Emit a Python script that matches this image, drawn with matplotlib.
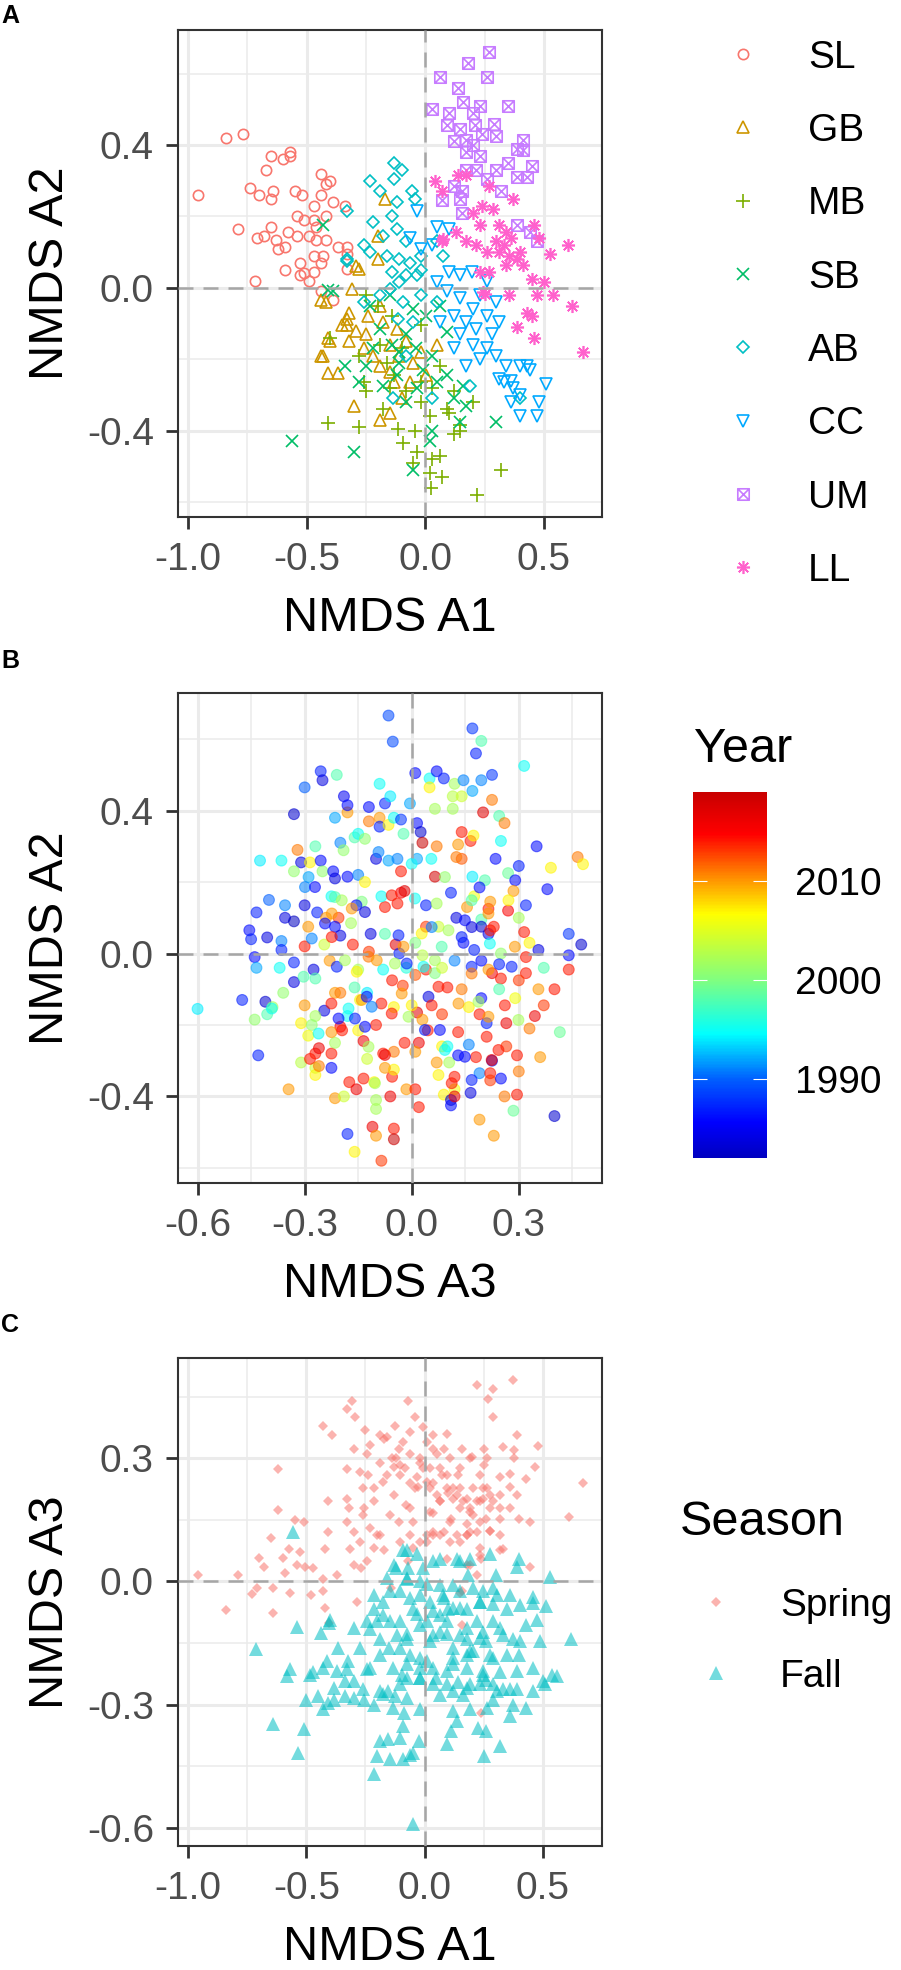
import numpy as np
import matplotlib
matplotlib.use("Agg")
from matplotlib import pyplot as plt
from matplotlib.colors import LinearSegmentedColormap, Normalize
from matplotlib.cm import ScalarMappable
from matplotlib.path import Path

plt.rcParams['font.family'] = ['Liberation Sans', 'DejaVu Sans']
plt.rcParams['axes.unicode_minus'] = False

# ---------------- data ----------------
# panel A: NMDS A1 / A2 by site
site_names = ['SL', 'GB', 'MB', 'SB', 'AB', 'CC', 'UM', 'LL']

sl_x = [-0.96, -0.84, -0.77, -0.65, -0.60, -0.57, -0.57, -0.67, -0.44, -0.40,
        -0.74, -0.70, -0.64, -0.65, -0.55, -0.52, -0.47, -0.44, -0.42, -0.39,
        -0.34, -0.54, -0.51, -0.47, -0.42, -0.79, -0.71, -0.68, -0.65, -0.63,
        -0.62, -0.59, -0.58, -0.54, -0.49, -0.46, -0.42, -0.47, -0.43, -0.44,
        -0.37, -0.33, -0.33, -0.53, -0.59, -0.51, -0.49, -0.72, -0.44, -0.39,
        -0.33, -0.46, -0.53, -0.47]
sl_y = [0.26, 0.42, 0.43, 0.37, 0.36, 0.38, 0.37, 0.33, 0.32, 0.30,
        0.28, 0.26, 0.27, 0.25, 0.27, 0.26, 0.23, 0.26, 0.29, 0.24,
        0.23, 0.20, 0.19, 0.19, 0.20, 0.165, 0.14, 0.145, 0.17, 0.135,
        0.11, 0.115, 0.155, 0.145, 0.145, 0.135, 0.135, 0.09, 0.09, 0.07,
        0.115, 0.115, 0.095, 0.07, 0.05, 0.04, 0.02, 0.018, -0.008, -0.035,
        0.053, 0.17, 0.035, 0.045]

gb_x = [-0.17, -0.20, -0.28, -0.20, -0.42, -0.31, -0.32, -0.33, -0.29, -0.40,
        -0.44, -0.37, -0.32, -0.25, -0.26, -0.22, -0.19, -0.15, -0.13, -0.30,
        -0.19, -0.15, -0.24, -0.18, -0.12, -0.08, -0.15, -0.11, -0.05, -0.02,
        -0.065, -0.10, 0.005, -0.19, -0.35, 0.05, -0.44, -0.41, -0.43, -0.33,
        -0.29, -0.41]
gb_y = [0.25, 0.145, 0.053, 0.08, -0.04, -0.003, -0.07, -0.105, -0.12, -0.15,
        -0.19, -0.24, -0.15, -0.13, -0.17, -0.19, -0.22, -0.235, -0.265, -0.33,
        -0.37, -0.35, -0.08, -0.095, -0.115, -0.15, -0.16, -0.19, -0.21, -0.18,
        -0.265, -0.31, -0.245, -0.05, -0.105, -0.16, -0.035, -0.14, -0.19, -0.087,
        0.06, -0.24]

mb_x = [-0.41, -0.28, -0.40, -0.28, -0.26, -0.25, -0.19, -0.16, -0.13, -0.115,
        -0.095, -0.045, -0.035, -0.05, 0.03, 0.06, 0.02, 0.07, 0.025, 0.22,
        0.32, 0.12, 0.145, 0.10, 0.20, 0.02, -0.02, -0.08, -0.15, -0.18,
        0.03, 0.06, -0.02, -0.10, 0.12, 0.09, -0.20, -0.25, -0.14, -0.02,
        0.145]
mb_y = [-0.38, -0.39, -0.14, -0.19, -0.265, -0.29, -0.16, -0.21, -0.245, -0.395,
        -0.435, -0.40, -0.46, -0.49, -0.48, -0.47, -0.52, -0.53, -0.56, -0.58,
        -0.51, -0.41, -0.40, -0.35, -0.32, -0.36, -0.32, -0.29, -0.28, -0.34,
        -0.28, -0.22, -0.265, -0.17, -0.29, -0.34, -0.05, -0.02, -0.08, -0.105,
        -0.385]

sb_x = [-0.56, -0.30, -0.05, 0.30, -0.43, -0.39, -0.34, -0.28, -0.235, -0.19,
        -0.14, -0.11, -0.08, -0.04, -0.01, 0.03, 0.05, 0.09, 0.12, 0.16,
        0.17, 0.145, 0.03, 0.02, -0.08, -0.18, -0.22, -0.15, -0.05, 0.005,
        0.09, 0.06, -0.035, -0.12, -0.41, -0.25, -0.11]
sb_y = [-0.43, -0.46, -0.51, -0.375, 0.175, -0.01, -0.22, -0.265, -0.05, -0.115,
        -0.16, -0.21, -0.13, -0.17, -0.23, -0.19, -0.265, -0.245, -0.31, -0.275,
        -0.33, -0.375, -0.40, -0.43, -0.32, -0.275, -0.17, -0.02, -0.06, -0.08,
        -0.125, -0.05, -0.28, -0.245, -0.005, -0.22, -0.18]

ab_x = [-0.13, -0.10, -0.13, -0.235, -0.19, -0.055, -0.045, -0.33, -0.22, -0.14,
        -0.12, -0.18, -0.12, -0.08, -0.26, -0.33, -0.235, -0.16, -0.11, -0.065,
        -0.02, -0.14, -0.08, -0.035, -0.02, -0.11, -0.15, -0.19, -0.26, -0.095,
        -0.02, 0.05, 0.075, 0.05, -0.115, -0.05, -0.08, -0.135, 0.40, 0.19,
        0.03, -0.33]
ab_y = [0.35, 0.33, 0.305, 0.30, 0.27, 0.27, 0.25, 0.215, 0.185, 0.20,
        0.24, 0.145, 0.165, 0.13, 0.12, 0.08, 0.10, 0.09, 0.08, 0.07,
        0.09, 0.045, 0.035, 0.035, 0.05, 0.016, -0.003, -0.02, -0.04, -0.04,
        -0.02, -0.04, 0.09, 0.13, -0.087, -0.095, -0.19, -0.31, -0.31, -0.275,
        -0.31, 0.076]

cc_x = [-0.035, 0.05, 0.10, 0.03, -0.065, -0.02, 0.10, 0.145, 0.195, 0.26,
        0.05, 0.09, 0.145, 0.23, 0.30, 0.20, 0.12, 0.17, 0.26, 0.145,
        0.215, 0.28, 0.31, 0.20, 0.26, 0.23, 0.30, 0.34, 0.40, 0.44,
        0.51, 0.33, 0.37, 0.40, 0.47, 0.36, 0.17, 0.12, 0.06, 0.31,
        0.36, 0.43, 0.40, 0.48]
cc_y = [0.215, 0.17, 0.165, 0.12, 0.14, 0.11, 0.045, 0.035, 0.045, 0.02,
        0.016, -0.01, -0.03, -0.02, -0.04, -0.06, -0.08, -0.095, -0.08, -0.13,
        -0.115, -0.13, -0.095, -0.16, -0.17, -0.20, -0.19, -0.22, -0.22, -0.23,
        -0.27, -0.265, -0.28, -0.36, -0.36, -0.32, -0.22, -0.17, -0.095, -0.255,
        -0.26, -0.22, -0.30, -0.32]

um_x = [0.27, 0.18, 0.06, 0.26, 0.14, 0.35, 0.03, 0.16, 0.10, 0.20,
        0.23, 0.29, 0.09, 0.145, 0.21, 0.12, 0.17, 0.24, 0.30, 0.41,
        0.385, 0.41, 0.17, 0.23, 0.35, 0.45, 0.385, 0.43, 0.30, 0.26,
        0.215, 0.17, 0.155, 0.32, 0.07, 0.155, 0.385, 0.47, 0.44, 0.12,
        0.145, 0.20]
um_y = [0.66, 0.63, 0.59, 0.59, 0.56, 0.51, 0.50, 0.52, 0.49, 0.49,
        0.51, 0.46, 0.455, 0.445, 0.455, 0.41, 0.415, 0.43, 0.425, 0.415,
        0.39, 0.385, 0.38, 0.37, 0.35, 0.34, 0.31, 0.31, 0.33, 0.305,
        0.33, 0.33, 0.27, 0.27, 0.245, 0.21, 0.175, 0.13, 0.155, 0.285,
        0.25, 0.40]

ll_x = [0.04, 0.07, 0.14, 0.37, 0.27, 0.24, 0.285, 0.20, 0.23, 0.31,
        0.34, 0.46, 0.48, 0.60, 0.525, 0.07, 0.13, 0.17, 0.215, 0.26,
        0.31, 0.355, 0.385, 0.40, 0.34, 0.41, 0.23, 0.27, 0.45, 0.50,
        0.245, 0.355, 0.47, 0.54, 0.62, 0.43, 0.45, 0.385, 0.46, 0.665,
        0.17, 0.075, 0.25, 0.30, 0.33, 0.36]
ll_y = [0.30, 0.27, 0.315, 0.25, 0.285, 0.23, 0.22, 0.21, 0.175, 0.175,
        0.155, 0.175, 0.14, 0.12, 0.095, 0.13, 0.155, 0.13, 0.12, 0.10,
        0.10, 0.09, 0.08, 0.10, 0.063, 0.063, 0.045, 0.045, 0.025, 0.016,
        -0.012, -0.02, -0.02, -0.02, -0.05, -0.07, -0.078, -0.11, -0.14, -0.18,
        0.315, 0.137, -0.017, 0.13, 0.12, 0.14]

# panel B: NMDS A3 / A2 coloured by year
b_a3 = [-0.065, -0.053, -0.255, -0.25, -0.21, -0.30, -0.33, -0.215, -0.18, -0.19,
        -0.18, -0.12, -0.09, -0.075, -0.06, -0.005, 0.01, 0.05, 0.07, 0.09,
        0.05, 0.12, 0.145, 0.17, 0.195, 0.225, 0.17, 0.195, 0.18, 0.115,
        0.14, 0.065, 0.115, 0.225, 0.20, -0.12, -0.09, -0.09, -0.065, -0.05,
        -0.03, 0.015, 0.025, 0.03, 0.07, 0.14, 0.165, 0.13, 0.14, 0.125,
        0.235, 0.17, 0.205, -0.16, -0.15, -0.20, -0.27, -0.32, -0.425, -0.365,
        -0.31, -0.285, -0.255, -0.33, -0.25, -0.22, -0.215, -0.18, -0.15, -0.10,
        -0.065, -0.04, -0.03, 0.015, 0.055, 0.065, 0.11, 0.04, -0.03, -0.04,
        -0.02, -0.075, -0.085, -0.14, -0.155, -0.225, -0.265, -0.30, -0.24, -0.205,
        -0.17, -0.355, -0.40, -0.435, -0.355, -0.33, -0.29, -0.455, -0.45, -0.405,
        -0.365, -0.365, -0.44, -0.435, -0.37, -0.33, -0.275, -0.30, -0.245, -0.215,
        -0.20, -0.165, -0.12, -0.115, -0.075, -0.045, -0.035, 0.01, 0.03, -0.015,
        -0.08, -0.15, -0.23, -0.27, -0.33, -0.36, -0.475, -0.41, -0.60, -0.44,
        -0.39, -0.30, -0.245, -0.215, -0.20, -0.225, -0.16, -0.145, -0.125, -0.085,
        -0.055, -0.025, 0.01, 0.04, 0.065, 0.085, 0.10, 0.12, 0.145, 0.175,
        0.215, 0.23, 0.195, 0.155, 0.175, 0.215, 0.125, 0.075, 0.04, 0.015,
        0.03, 0.045, 0.085, 0.16, 0.195, 0.225, 0.14, -0.18, -0.10, -0.05,
        -0.15, -0.31, -0.27, -0.20, 0.315, 0.245, 0.26, 0.25, 0.35, 0.30,
        0.465, 0.48, 0.39, 0.27, 0.29, 0.38, 0.19, 0.285, 0.22, 0.32,
        0.195, 0.22, 0.27, 0.30, 0.315, 0.33, 0.355, 0.44, 0.475, 0.44,
        0.32, 0.25, 0.245, 0.37, 0.44, 0.32, 0.30, 0.25, 0.355, 0.40,
        0.215, 0.195, 0.245, 0.29, 0.37, 0.345, 0.265, 0.33, 0.415, 0.19,
        0.21, 0.13, -0.405, -0.43, -0.345, -0.28, -0.29, -0.27, -0.26, -0.27,
        -0.27, -0.225, -0.225, -0.215, -0.225, -0.195, -0.215, -0.19, -0.135, -0.175,
        -0.155, -0.135, -0.18, -0.16, -0.11, -0.10, -0.085, -0.05, -0.05, -0.06,
        -0.10, -0.10, -0.105, -0.055, -0.05, -0.075, -0.125, -0.08, -0.05, -0.02,
        0.02, 0.01, -0.015, 0.01, 0.02, 0.07, 0.085, 0.10, 0.105, 0.13,
        0.12, 0.075, 0.09, 0.12, 0.11, 0.11, 0.12, 0.165, 0.16, 0.18,
        0.19, 0.225, 0.22, 0.22, 0.25, 0.19, 0.23, 0.26, 0.295, 0.265,
        0.295, 0.30, 0.285, 0.40, 0.36, -0.31, -0.285, -0.26,
        -0.191, -0.131, -0.093, -0.023, 0.0, 0.173, -0.289, -0.299, -0.271, -0.131,
        -0.243, -0.224, -0.215, -0.196, -0.168, -0.131, -0.056, 0.009, 0.07, 0.093,
        0.168, 0.271, 0.215, 0.149, -0.28, -0.224, -0.037, -0.023, 0.028, 0.056,
        0.084, 0.103, 0.14, 0.168, 0.219, 0.289, -0.303, -0.21, -0.154, -0.187,
        -0.121, -0.098, -0.047, -0.014, 0.033, 0.065, 0.168, 0.28, -0.028, 0.047,
        0.075, 0.168, -0.392, -0.14, -0.126, -0.112, -0.177, 0.0, 0.056, 0.131,
        0.187, 0.261, -0.261, -0.205, -0.159, -0.131, -0.121, -0.056, -0.009, 0.037,
        0.079, 0.215, 0.299, 0.21, 0.243, 0.224, 0.093, -0.103, -0.075, 0.112,
        0.149, 0.168]
b_a2 = [0.666, 0.593, 0.51, 0.485, 0.50, 0.465, 0.39, 0.38, 0.395, 0.44,
        0.415, 0.41, 0.475, 0.42, 0.44, 0.42, 0.505, 0.49, 0.51, 0.49,
        0.465, 0.475, 0.485, 0.455, 0.485, 0.50, 0.63, 0.595, 0.56, 0.44,
        0.44, 0.405, 0.405, 0.43, 0.395, 0.37, 0.38, 0.355, 0.36, 0.38,
        0.375, 0.365, 0.34, 0.31, 0.30, 0.34, 0.315, 0.305, 0.265, 0.27,
        0.265, 0.215, 0.205, 0.325, 0.335, 0.31, 0.30, 0.29, 0.26, 0.26,
        0.255, 0.255, 0.26, 0.23, 0.23, 0.23, 0.21, 0.215, 0.22, 0.265,
        0.26, 0.265, 0.23, 0.265, 0.265, 0.215, 0.17, 0.135, 0.17, 0.14,
        0.175, 0.13, 0.16, 0.145, 0.135, 0.16, 0.115, 0.135, 0.10, 0.10,
        0.085, 0.135, 0.15, 0.115, 0.10, 0.09, 0.075, 0.065, 0.04, 0.045,
        0.035, 0.01, -0.01, -0.04, -0.04, -0.025, -0.045, 0.02, 0.025, 0.075,
        0.05, 0.025, 0.005, 0.055, 0.055, 0.025, 0.0, 0.03, -0.005, -0.04,
        -0.045, -0.045, -0.02, -0.07, -0.08, -0.11, -0.13, -0.135, -0.155, -0.185,
        -0.15, -0.145, -0.16, -0.11, -0.11, -0.14, -0.095, -0.13, -0.11, -0.14,
        -0.075, -0.09, -0.06, -0.045, -0.055, -0.04, -0.095, -0.02, 0.03, 0.01,
        0.055, 0.075, 0.095, 0.13, 0.16, 0.125, 0.10, 0.075, 0.075, -0.165,
        -0.185, -0.215, -0.17, -0.15, -0.125, -0.055, -0.10, -0.175, -0.20, -0.15,
        -0.215, -0.195, -0.175, -0.205, 0.525, 0.385, 0.365, 0.315, 0.30, 0.245,
        0.27, 0.25, 0.24, 0.225, 0.205, 0.18, 0.185, 0.175, 0.145, 0.135,
        0.075, 0.065, 0.12, 0.10, 0.06, 0.03, 0.01, 0.055, 0.025, -0.005,
        -0.01, 0.0, -0.03, -0.04, -0.045, -0.055, -0.075, -0.07, -0.10, -0.10,
        -0.045, -0.02, -0.10, -0.125, -0.145, -0.175, -0.195, -0.21, -0.22, -0.17,
        -0.195, -0.22, -0.17, -0.285, -0.38, -0.20, -0.23, -0.28, -0.265, -0.32,
        -0.34, -0.28, -0.32, -0.25, -0.22, -0.215, -0.405, -0.40, -0.245, -0.36,
        -0.38, -0.35, -0.505, -0.555, -0.485, -0.51, -0.58, -0.49, -0.52, -0.40,
        -0.41, -0.435, -0.36, -0.345, -0.325, -0.32, -0.295, -0.28, -0.275, -0.25,
        -0.25, -0.275, -0.38, -0.38, -0.43, -0.305, -0.26, -0.26, -0.305, -0.285,
        -0.345, -0.34, -0.395, -0.38, -0.41, -0.425, -0.40, -0.39, -0.255, -0.29,
        -0.335, -0.30, -0.335, -0.355, -0.35, -0.465, -0.51, -0.40, -0.395, -0.26,
        -0.285, -0.33, -0.44, -0.455, -0.29, -0.305, -0.295, -0.315,
        0.289, 0.321, 0.284, 0.335, 0.251, 0.33, 0.214, 0.186, 0.186, 0.20,
        0.084, 0.112, 0.158, 0.149, 0.126, 0.116, 0.163, 0.154, 0.14, 0.214,
        0.149, 0.149, 0.112, 0.093, 0.042, 0.046, 0.051, 0.019, 0.056, 0.074,
        0.019, 0.065, 0.046, 0.074, 0.028, 0.019, -0.065, -0.037, -0.051, -0.019,
        -0.009, -0.019, -0.028, -0.028, -0.037, -0.019, -0.037, -0.037, -0.112, -0.121,
        -0.093, -0.056, -0.154, -0.13, -0.121, -0.149, -0.154, -0.145, -0.145, -0.14,
        -0.135, -0.145, -0.224, -0.182, -0.182, -0.205, -0.261, -0.168, -0.177, -0.214,
        -0.214, -0.177, -0.186, -0.233, -0.27, -0.298, -0.27, -0.363, -0.284, -0.363,
        -0.289, -0.354]
b_year = [1989, 1989, 1987, 1984, 1998, 1990, 1983, 1992, 2010, 1985,
          1986, 1986, 1995, 1987, 1994, 1992, 1986, 1995, 1986, 1987,
          2007, 2002, 1991, 1992, 1991, 1988, 1988, 1998, 1987, 2003,
          2004, 2002, 2002, 2011, 2017, 2011, 2010, 1987, 2007, 1995,
          1988, 1986, 1983, 2019, 2011, 2014, 2014, 2010, 2012, 2011,
          1986, 1994, 1998, 1998, 1995, 1991, 1998, 2011, 1994, 1995,
          1984, 2007, 1986, 2001, 2001, 1986, 1984, 1986, 1991, 1984,
          1992, 1991, 2014, 1992, 1995, 2018, 1987, 1987, 2015, 2014,
          2017, 2014, 1995, 2000, 1986, 1995, 1987, 1984, 2010, 2013,
          2002, 1991, 1990, 1987, 1984, 1982, 2010, 1986, 1987, 1984,
          1991, 1987, 1986, 1992, 1995, 1987, 1984, 2014, 2004, 1986,
          1984, 2014, 2013, 1984, 1998, 2017, 1987, 2000, 2003, 1996,
          1995, 2002, 2010, 1998, 1984, 2001, 1987, 1983, 1994, 2001,
          2002, 2010, 1984, 2010, 2011, 2014, 1998, 2006, 1994, 2014,
          2014, 2013, 2012, 2014, 2000, 2004, 2014, 1991, 1986, 1987,
          1984, 2014, 1998, 2010, 2006, 2014, 1984, 2004, 2013, 2017,
          2010, 2014, 2013, 2007, 1986, 2016, 2011, 1995, 2014, 2007,
          2007, 2007, 2002, 2015, 1995, 1998, 2011, 1995, 1986, 1987,
          2011, 2007, 2007, 1999, 1986, 1986, 1986, 2010, 2010, 1987,
          1983, 2014, 2015, 2002, 2014, 2007, 1984, 1988, 1983, 1986,
          2014, 2001, 1987, 1998, 2014, 2014, 2013, 2014, 2010, 2014,
          2010, 1986, 1998, 2006, 2013, 2016, 2016, 2011, 1999, 2014,
          1987, 2014, 1998, 1987, 2010, 2001, 2006, 2014, 2016, 2004,
          2007, 2014, 1986, 2002, 2010, 2014, 2010, 2004, 2016, 2014,
          2016, 2014, 1987, 2007, 2016, 2010, 2013, 2014, 2019, 2016,
          2002, 2002, 2007, 2014, 2007, 2010, 2004, 2014, 2011, 2014,
          2016, 2010, 2010, 2014, 2014, 2010, 2007, 1995, 2002, 1986,
          2014, 2007, 2007, 2006, 1983, 1986, 2016, 1984, 1991, 2014,
          1991, 1984, 2014, 2013, 1986, 2010, 2010, 2011, 2014, 2013,
          2014, 2011, 1999, 1983, 2010, 2003, 2014, 2011,
          2001, 2001, 1991, 1998, 1995, 2007, 1992, 1991, 1986, 2007,
          1986, 2010, 1998, 2002, 2010, 1984, 2014, 1995, 2002, 2001,
          1998, 2007, 2010, 1986, 1991, 2014, 1987, 2010, 2007, 1991,
          1998, 2002, 1987, 1984, 1995, 2010, 1998, 1987, 2007, 2002,
          2011, 2010, 2002, 1987, 1995, 2002, 1987, 1987, 2010, 1984,
          2014, 2011, 1995, 2010, 1986, 1991, 1995, 2007, 2014, 2010,
          2002, 2014, 1995, 1986, 1987, 1986, 2002, 2014, 2002, 1987,
          1986, 2010, 2002, 2014, 2014, 2016, 1995, 2002, 2016, 2014,
          1986, 1987]

# panel C: NMDS A1 / A3 by season
season_names = ['Spring', 'Fall']
sp_a1 = [-0.96, -0.84, -0.79, -0.73, -0.71, -0.70, -0.68, -0.65, -0.64, -0.64,
         -0.62, -0.62, -0.60, -0.59, -0.57, -0.55, -0.51, -0.575, -0.525, -0.54,
         -0.505, -0.48, -0.47, -0.43, -0.43, -0.42, -0.43, -0.39, -0.41, -0.41,
         -0.42, -0.37, -0.33, -0.33, -0.305, -0.295, -0.25, -0.33, -0.32, -0.315,
         -0.30, -0.285, -0.27, -0.245, -0.245, -0.24, -0.26, -0.26, -0.23, -0.215,
         -0.19, -0.17, -0.19, -0.175, -0.17, -0.125, -0.12, -0.105, -0.13, -0.145,
         -0.11, -0.09, -0.07, -0.04, -0.06, -0.08, -0.06, -0.04, -0.02, -0.005,
         0.037, 0.01, 0.023, 0.037, 0.095, 0.08, 0.053, 0.095, 0.12, 0.065,
         0.11, 0.135, 0.15, 0.16, 0.19, 0.22, 0.29, 0.27, 0.29, 0.235,
         0.22, 0.26, 0.19, 0.235, 0.18, 0.15, -0.14, -0.33, -0.30, 0.375,
         0.39, 0.48, 0.33, 0.38, 0.25, 0.20, 0.38, 0.465, 0.67, 0.43,
         0.32, 0.36, 0.25, 0.14, 0.074, 0.037, -0.027, -0.06, 0.037, 0.10,
         0.12, 0.18, 0.245, 0.275, 0.32, 0.39, 0.36, 0.445, 0.61, 0.40,
         0.32, 0.205, 0.18, 0.22, 0.15, 0.08, 0.01, -0.02, 0.32, 0.33,
         0.24, 0.445, 0.22, 0.16, 0.16, -0.07, 0.095, 0.24, -0.405,
         -0.16, -0.11, -0.138, -0.103, -0.13, -0.082, -0.16, -0.033, -0.061, -0.005,
         0.023, 0.051, 0.094, 0.136, 0.164, 0.206, 0.234, 0.192, 0.234, 0.276,
         0.178, 0.108, 0.065, 0.009, -0.047, -0.103, -0.202, -0.216, -0.272, -0.258,
         -0.216, -0.272, -0.23, -0.188, -0.30, -0.061, 0.037, 0.009, 0.108, 0.15,
         0.065, 0.262, 0.29, 0.262, -0.019, 0.023, 0.065, 0.15, 0.192, 0.248,
         0.319, 0.276, 0.361, 0.276, 0.178, 0.037, -0.047, 0.108, 0.234, 0.319,
         0.192]
sp_a3 = [0.017, -0.07, 0.017, -0.03, -0.017, 0.057, 0.036, 0.105, -0.017, -0.078,
         0.275, 0.175, 0.057, 0.02, -0.028, 0.15, 0.146, 0.08, 0.073, 0.04,
         0.036, -0.032, 0.032, 0.007, -0.024, -0.065, 0.38, 0.357, 0.195, 0.12,
         0.08, 0.017, 0.275, 0.42, 0.44, 0.40, 0.37, 0.20, 0.178, 0.08,
         0.04, -0.049, 0.032, 0.049, 0.31, 0.26, 0.227, 0.163, 0.13, 0.195,
         0.114, 0.077, 0.29, 0.243, 0.348, 0.38, 0.30, 0.26, 0.21, 0.163,
         0.146, 0.34, 0.44, 0.40, 0.31, 0.187, 0.114, 0.227, 0.29, 0.377,
         0.357, 0.243, 0.17, 0.12, 0.36, 0.324, 0.31, 0.26, 0.227, 0.195,
         0.153, 0.114, 0.178, 0.324, 0.30, 0.48, 0.47, 0.445, 0.40, 0.26,
         0.195, 0.153, 0.12, 0.065, 0.04, -0.028, -0.017, 0.146, 0.12, 0.49,
         0.357, 0.33, 0.327, 0.32, 0.324, 0.304, 0.30, 0.28, 0.24, 0.25,
         0.255, 0.263, 0.285, 0.26, 0.26, 0.24, 0.23, 0.178, 0.166, 0.215,
         0.20, 0.20, 0.20, 0.21, 0.178, 0.21, 0.23, 0.146, 0.156, 0.153,
         0.153, 0.163, 0.139, 0.12, 0.097, 0.12, 0.114, 0.097, 0.077, 0.08,
         0.056, 0.036, 0.017, -0.024, -0.105, 0.049, 0.056, -0.32, -0.10,
         0.353, 0.324, 0.30, 0.284, 0.28, 0.276, 0.26, 0.255, 0.239, 0.276,
         0.227, 0.211, 0.227, 0.211, 0.195, 0.227, 0.195, 0.17, 0.146, 0.122,
         0.114, 0.097, 0.114, 0.097, 0.081, 0.097, 0.114, 0.081, 0.097, 0.178,
         0.227, 0.268, 0.333, 0.357, 0.324, 0.365, 0.324, 0.341, 0.30, 0.276,
         0.276, 0.227, 0.195, 0.30, 0.30, 0.276, 0.195, 0.227, 0.178, 0.227,
         0.211, 0.178, 0.178, 0.122, 0.114, 0.114, 0.146, 0.146, 0.081, 0.114,
         0.041]
fa_a1 = [-0.555, -0.715, -0.54, -0.57, -0.47, -0.43, -0.44, -0.40, -0.365, -0.33,
         -0.325, -0.245, -0.23, -0.215, -0.19, -0.175, -0.15, -0.13, -0.105, -0.09,
         -0.07, -0.105, -0.075, -0.06, -0.03, -0.02, 0.01, 0.023, 0.037, 0.066,
         0.037, 0.095, 0.10, 0.12, 0.15, 0.185, 0.18, 0.205, 0.235, 0.245,
         0.29, 0.275, -0.03, -0.12, -0.20, -0.145, -0.075, 0.135, 0.19, 0.30,
         0.40, 0.39, 0.53, -0.075, -0.02, 0.08, 0.15, 0.245, 0.36, 0.46,
         0.46, 0.515, -0.05, 0.037, 0.18, 0.29, 0.35, -0.02, 0.095, 0.22,
         0.32, 0.43, 0.475, -0.075, 0.023, 0.18, 0.26, 0.375, 0.49, 0.62,
         0.40, 0.29, 0.12, 0.01, -0.075, 0.18, 0.32, 0.46, 0.54, 0.50,
         0.235, 0.037, 0.12, 0.36, -0.58, -0.50, -0.45, -0.41, -0.43, -0.385,
         -0.335, -0.335, -0.26, -0.255, -0.215, -0.175, -0.155, -0.125, -0.095, -0.135,
         -0.085, -0.09, -0.02, -0.025, -0.05, -0.09, -0.145, -0.20, -0.19, -0.155,
         -0.215, -0.05, -0.64, -0.51, -0.535, 0.05, 0.095, 0.14, 0.19, 0.26,
         0.29, 0.33, 0.39, 0.51, 0.56, 0.43, 0.36, 0.29, 0.19, 0.135,
         0.11, 0.095, 0.225, 0.26, 0.32, 0.25, -0.02, -0.405,
         -0.216, -0.174, -0.146, -0.117, -0.103, -0.061, -0.188, -0.23, -0.132, -0.075,
         -0.019, 0.009, 0.037, 0.065, 0.079, 0.122, 0.15, 0.178, 0.122, 0.234,
         0.276, 0.29, -0.30, -0.37, -0.413, -0.483, -0.272, -0.244, -0.30, -0.16,
         -0.075, -0.005, -0.019, 0.065, 0.206, 0.305, 0.403, 0.234, 0.122, 0.065,
         0.15, 0.248, 0.333, 0.403, 0.192, 0.347, 0.094, 0.248, 0.389, -0.019,
         0.178, 0.305, 0.459, -0.385, -0.30, -0.188, -0.103, -0.075, 0.065, 0.164,
         0.262, 0.375, 0.122, -0.103, -0.061]
fa_a3 = [0.12, -0.164, -0.11, -0.214, -0.22, -0.21, -0.126, -0.093, -0.163, -0.214,
         -0.195, -0.214, -0.117, -0.068, -0.141, -0.049, -0.163, 0.041, -0.024, 0.077,
         0.032, -0.097, -0.129, -0.041, -0.08, -0.187, -0.007, -0.049, 0.049, 0.056,
         -0.21, -0.129, -0.066, -0.20, 0.049, 0.017, -0.114, -0.17, -0.049, -0.227,
         -0.097, 0.066, 0.066, 0.032, -0.097, -0.024, 0.077, 0.056, 0.056, 0.017,
         0.056, 0.036, 0.012, 0.007, -0.032, -0.041, -0.024, -0.024, -0.032, -0.037,
         -0.053, -0.06, -0.066, -0.073, -0.066, -0.056, -0.066, -0.105, -0.097, -0.097,
         -0.114, -0.105, -0.093, -0.139, -0.146, -0.139, -0.146, -0.139, -0.146, -0.141,
         -0.178, -0.187, -0.187, -0.195, -0.202, -0.21, -0.22, -0.21, -0.227, -0.243,
         -0.25, -0.25, -0.267, -0.263, -0.23, -0.29, -0.28, -0.297, -0.31, -0.29,
         -0.28, -0.243, -0.263, -0.29, -0.30, -0.275, -0.267, -0.28, -0.227, -0.309,
         -0.32, -0.353, -0.31, -0.39, -0.418, -0.433, -0.433, -0.426, -0.39, -0.384,
         -0.47, -0.59, -0.348, -0.36, -0.418, -0.235, -0.25, -0.245, -0.25, -0.24,
         -0.25, -0.263, -0.263, -0.25, -0.23, -0.309, -0.328, -0.29, -0.31, -0.34,
         -0.365, -0.397, -0.357, -0.365, -0.40, -0.426, -0.235, -0.10,
         -0.032, -0.081, -0.097, -0.13, -0.162, -0.178, -0.178, -0.211, -0.211, -0.235,
         -0.211, -0.097, -0.13, -0.081, -0.032, -0.008, -0.065, -0.178, -0.162, -0.138,
         -0.178, -0.016, -0.243, -0.219, -0.195, -0.227, -0.162, -0.097, -0.114, 0.008,
         0.008, 0.032, 0.0, -0.008, -0.016, -0.032, -0.057, -0.049, -0.065, -0.122,
         -0.13, -0.122, -0.13, -0.146, -0.17, -0.178, -0.219, -0.219, -0.219, -0.235,
         -0.26, -0.268, -0.268, -0.26, -0.284, -0.268, -0.251, -0.284, -0.276, -0.276,
         -0.308, -0.30, -0.316, -0.381, -0.422]

# ticks
a1_ticks = [-1.0, -0.5, 0.0, 0.5]
a2_ticks = [-0.4, 0.0, 0.4]
a3_ticks_b = [-0.6, -0.3, 0.0, 0.3]
a3_ticks_c = [-0.6, -0.3, 0.0, 0.3]
year_ticks = [1990, 2000, 2010]

# ---------------- figure helpers (pixel layout) ----------------
W, H = 901, 1970
fig = plt.figure(figsize=(W / 100, H / 100), dpi=100)


def px_box(left, top, right, bottom):
    return [left / W, 1 - bottom / H, (right - left) / W, (bottom - top) / H]


def fxy(x, y):
    return x / W, 1 - y / H


def expanded(*vals):
    # ggplot-like 5% expansion of the data range
    v = np.concatenate([np.asarray(a, dtype=float) for a in vals])
    span = v.max() - v.min()
    return v.min() - 0.05 * span, v.max() + 0.05 * span


def minor_between(ticks, lo, hi):
    step = ticks[1] - ticks[0]
    m = np.arange(ticks[0] - step / 2, ticks[-1] + step, step)
    return [t for t in m if lo <= t <= hi]


def style_panel(ax, xticks, yticks, xlim, ylim):
    ax.set_xlim(xlim)
    ax.set_ylim(ylim)
    ax.set_xticks(xticks)
    ax.set_xticklabels([f'{t:.1f}' for t in xticks])
    ax.set_yticks(yticks)
    ax.set_yticklabels([f'{t:.1f}' for t in yticks])
    ax.set_xticks(minor_between(xticks, *xlim), minor=True)
    ax.set_yticks(minor_between(yticks, *ylim), minor=True)
    ax.grid(True, which='major', color='#EBEBEB', lw=2.2)
    ax.grid(True, which='minor', color='#EBEBEB', lw=1.1)
    ax.set_axisbelow(True)
    for s in ax.spines.values():
        s.set_color('#333333')
        s.set_linewidth(1.5)
    ax.tick_params(which='major', length=8.6, width=2.0, color='#333333',
                   labelsize=28, labelcolor='#4D4D4D')
    ax.tick_params(axis='x', which='major', pad=9.7)
    ax.tick_params(axis='y', which='major', pad=8.9)
    ax.tick_params(which='minor', length=0)
    ax.axhline(0, color='#A6A6A6', lw=1.8, dashes=(6, 4), zorder=5)
    ax.axvline(0, color='#A6A6A6', lw=1.8, dashes=(6, 4), zorder=5)


def titles(top, bottom, xlab, ylab, tag, tag_base):
    fig.text(*fxy(390.3, bottom + 114), xlab, ha='center', va='baseline', fontsize=35)
    fig.text(*fxy(63, (top + bottom) / 2), ylab, rotation=90, rotation_mode='anchor',
             ha='center', va='baseline', fontsize=35)
    fig.text(*fxy(1, tag_base), tag, fontsize=18, fontweight='bold', va='baseline')


L, R = 178.3, 602.3

# ---------------- panel A ----------------
ax_a = fig.add_axes(px_box(L, 30, R, 517))
a_x = [sl_x, gb_x, mb_x, sb_x, ab_x, cc_x, um_x, ll_x]
a_y = [sl_y, gb_y, mb_y, sb_y, ab_y, cc_y, um_y, ll_y]
site_colors = ['#F8766D', '#CD9600', '#7CAE00', '#00BE67',
               '#00BFC4', '#00A9FF', '#C77CFF', '#FF61CC']
box_x = Path([(-1, -1), (1, -1), (1, 1), (-1, 1), (-1, -1),
              (-1, -1), (1, 1), (-1, 1), (1, -1)],
             [Path.MOVETO, Path.LINETO, Path.LINETO, Path.LINETO, Path.CLOSEPOLY,
              Path.MOVETO, Path.LINETO, Path.MOVETO, Path.LINETO])
site_markers = ['o', '^', '+', 'x', 'D', 'v', box_x, (8, 2, 0)]
site_msize = [7.4, 8.8, 9.6, 8.4, 6.5, 8.8, 8.2, 9.4]

site_handles = []
for name, xs, ys, c, m, ms in zip(site_names, a_x, a_y, site_colors, site_markers, site_msize):
    ln, = ax_a.plot(xs, ys, ls='none', marker=m, ms=ms, mfc='none', mec=c, mew=1.2, label=name)
    site_handles.append(ln)

style_panel(ax_a, a1_ticks, a2_ticks, expanded(*a_x), expanded(*a_y))
titles(30, 517, 'NMDS A1', 'NMDS A2', 'A', 23)

fig.legend(handles=site_handles, loc='upper left', bbox_to_anchor=fxy(723.5, 39.6),
           frameon=False, fontsize=28, handlelength=1.0, handletextpad=1.17,
           labelspacing=0.96, borderpad=0, borderaxespad=0)

# ---------------- panel B ----------------
ax_b = fig.add_axes(px_box(L, 693.3, R, 1183))
year_cmap = LinearSegmentedColormap.from_list('year', [
    (0.0, '#0000C0'), (0.097, '#0000FF'), (0.216, '#0060FF'), (0.338, '#00FFFF'),
    (0.486, '#80FF80'), (0.667, '#FFFF00'), (0.757, '#FF9900'), (0.886, '#FF0000'),
    (1.0, '#C80000')])
year_norm = Normalize(min(b_year), max(b_year))
ax_b.scatter(b_a3, b_a2, c=b_year, cmap=year_cmap, norm=year_norm, s=7.8 ** 2,
             alpha=0.55, edgecolors='face', linewidths=0.8, zorder=3)
style_panel(ax_b, a3_ticks_b, a2_ticks, expanded(b_a3), expanded(b_a2))
titles(693.3, 1183, 'NMDS A3', 'NMDS A2', 'B', 668)

cax = fig.add_axes(px_box(693, 792, 767, 1158))
cb = fig.colorbar(ScalarMappable(norm=year_norm, cmap=year_cmap), cax=cax, ticks=year_ticks)
cb.outline.set_visible(False)
cax.yaxis.set_ticks_position('both')
cax.tick_params(direction='in', length=10, width=0.8, color='white', labelsize=28,
                labelcolor='black', pad=20, left=True, right=True,
                labelleft=False, labelright=True)
fig.text(*fxy(694, 762), 'Year', fontsize=35, va='baseline', ha='left')

# ---------------- panel C ----------------
ax_c = fig.add_axes(px_box(L, 1358.3, R, 1845.7))
h_sp, = ax_c.plot(sp_a1, sp_a3, ls='none', marker='D', ms=5.6, mfc='#F8766D',
                  mew=0, alpha=0.55, label=season_names[0])
h_fa, = ax_c.plot(fa_a1, fa_a3, ls='none', marker='^', ms=9.5, mfc='#00BFC4',
                  mew=0, alpha=0.55, label=season_names[1])
style_panel(ax_c, a1_ticks, a3_ticks_c, expanded(sp_a1, fa_a1), expanded(sp_a3, fa_a3))
titles(1358.3, 1845.7, 'NMDS A1', 'NMDS A3', 'C', 1332)

fig.text(*fxy(680, 1535), 'Season', fontsize=35, va='baseline', ha='left')
fig.legend(handles=[h_sp, h_fa], loc='upper left', bbox_to_anchor=fxy(696.5, 1587.6),
           frameon=False, fontsize=28, handlelength=1.0, handletextpad=1.15,
           labelspacing=0.91, borderpad=0, borderaxespad=0)

fig.savefig('out.png', dpi=100)
